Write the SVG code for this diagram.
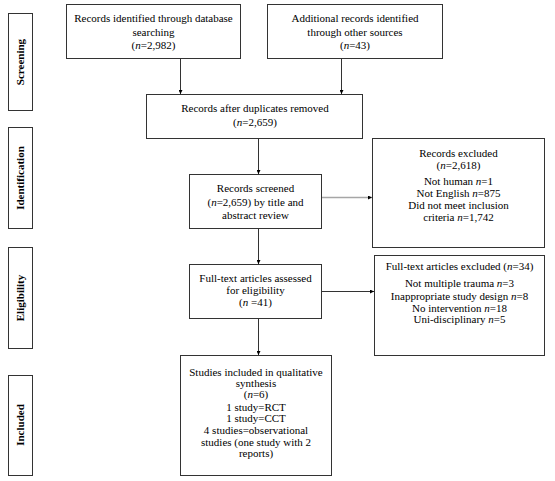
<svg xmlns="http://www.w3.org/2000/svg" width="555" height="481" viewBox="0 0 555 481">
<style>
  .box { fill: #ffffff; stroke: #333333; stroke-width: 1; }
  .t { font-family: "Liberation Serif", "Times New Roman", serif; font-size: 11px; fill: #000000; text-anchor: middle; }
  .side { font-family: "Liberation Serif", "Times New Roman", serif; font-size: 11px; font-weight: bold; fill: #000000; text-anchor: middle; }
  .conn { stroke: #333333; stroke-width: 1; fill: none; marker-end: url(#arr); }
  .conn-light { stroke: #a6a6a6; stroke-width: 1.5; fill: none; marker-end: url(#arr); }
</style>
<defs>
  <marker id="arr" viewBox="0 0 6 6" refX="6" refY="3" markerWidth="4" markerHeight="4" markerUnits="userSpaceOnUse" orient="auto">
    <path d="M0,0 L6,3 L0,6 Z" fill="#000000"/>
  </marker>
</defs>
<rect width="555" height="481" fill="#ffffff"/>

<g id="side-screening">
  <rect class="box" x="8.5" y="13.5" width="24" height="97"/>
  <text class="side" transform="translate(24,62) rotate(-90)">Screening</text>
</g>
<g id="side-identification">
  <rect class="box" x="8.5" y="127.5" width="24" height="101"/>
  <text class="side" transform="translate(24,178) rotate(-90)">Identification</text>
</g>
<g id="side-eligibility">
  <rect class="box" x="8.5" y="247.5" width="24" height="101"/>
  <text class="side" transform="translate(24,298) rotate(-90)">Eligibility</text>
</g>
<g id="side-included">
  <rect class="box" x="8.5" y="375.5" width="24" height="100"/>
  <text class="side" transform="translate(24,425) rotate(-90)">Included</text>
</g>

<g id="connectors">
  <line class="conn" x1="180.5" y1="58" x2="180.5" y2="94"/>
  <line class="conn" x1="341.5" y1="58" x2="341.5" y2="94"/>
  <line class="conn" x1="258.5" y1="138" x2="258.5" y2="174"/>
  <line class="conn-light" x1="322" y1="197.5" x2="372" y2="197.5"/>
  <line class="conn" x1="258.5" y1="228" x2="258.5" y2="264"/>
  <line class="conn" x1="322" y1="291.5" x2="374" y2="291.5"/>
  <line class="conn" x1="258.5" y1="318" x2="258.5" y2="355"/>
</g>

<g id="db-search">
  <rect class="box" x="66.5" y="4.5" width="174" height="54"/>
  <text class="t" x="153.5" y="22">Records identified through database</text>
  <text class="t" x="153.5" y="36">searching</text>
  <text class="t" x="153.5" y="49">(<tspan font-style="italic">n</tspan>=2,982)</text>
</g>
<g id="other-sources">
  <rect class="box" x="267.5" y="4.5" width="175" height="54"/>
  <text class="t" x="355" y="22">Additional records identified</text>
  <text class="t" x="355" y="36">through other sources</text>
  <text class="t" x="355" y="49">(<tspan font-style="italic">n</tspan>=43)</text>
</g>
<g id="after-duplicates">
  <rect class="box" x="146.5" y="94.5" width="216" height="44"/>
  <text class="t" x="255" y="112">Records after duplicates removed</text>
  <text class="t" x="255" y="126">(<tspan font-style="italic">n</tspan>=2,659)</text>
</g>
<g id="screened">
  <rect class="box" x="189.5" y="174.5" width="132" height="54"/>
  <text class="t" x="255.5" y="192">Records screened</text>
  <text class="t" x="255.5" y="206">(<tspan font-style="italic">n</tspan>=2,659) by title and</text>
  <text class="t" x="255.5" y="219">abstract review</text>
</g>
<g id="records-excluded">
  <rect class="box" x="372.5" y="138.5" width="172" height="109"/>
  <text class="t" x="458.5" y="157">Records excluded</text>
  <text class="t" x="458.5" y="169">(<tspan font-style="italic">n</tspan>=2,618)</text>
  <text class="t" x="458.5" y="185">Not human <tspan font-style="italic">n</tspan>=1</text>
  <text class="t" x="458.5" y="197">Not English <tspan font-style="italic">n</tspan>=875</text>
  <text class="t" x="458.5" y="209">Did not meet inclusion</text>
  <text class="t" x="458.5" y="221">criteria <tspan font-style="italic">n</tspan>=1,742</text>
</g>
<g id="full-text-assessed">
  <rect class="box" x="189.5" y="264.5" width="132" height="54"/>
  <text class="t" x="255.5" y="282">Full-text articles assessed</text>
  <text class="t" x="255.5" y="294">for eligibility</text>
  <text class="t" x="255.5" y="306">(<tspan font-style="italic">n</tspan> =41)</text>
</g>
<g id="full-text-excluded">
  <rect class="box" x="374.5" y="255.5" width="170" height="100"/>
  <text class="t" x="459.5" y="270">Full-text articles excluded (<tspan font-style="italic">n</tspan>=34)</text>
  <text class="t" x="459.5" y="287">Not multiple trauma <tspan font-style="italic">n</tspan>=3</text>
  <text class="t" x="459.5" y="300">Inappropriate study design <tspan font-style="italic">n</tspan>=8</text>
  <text class="t" x="459.5" y="312">No intervention <tspan font-style="italic">n</tspan>=18</text>
  <text class="t" x="459.5" y="323">Uni-disciplinary <tspan font-style="italic">n</tspan>=5</text>
</g>
<g id="included">
  <rect class="box" x="180.5" y="355.5" width="151" height="120"/>
  <text class="t" x="256" y="376">Studies included in qualitative</text>
  <text class="t" x="256" y="387">synthesis</text>
  <text class="t" x="256" y="398">(<tspan font-style="italic">n</tspan>=6)</text>
  <text class="t" x="256" y="411">1 study=RCT</text>
  <text class="t" x="256" y="422">1 study=CCT</text>
  <text class="t" x="256" y="434">4 studies=observational</text>
  <text class="t" x="256" y="446">studies (one study with 2</text>
  <text class="t" x="256" y="457">reports)</text>
</g>
</svg>
